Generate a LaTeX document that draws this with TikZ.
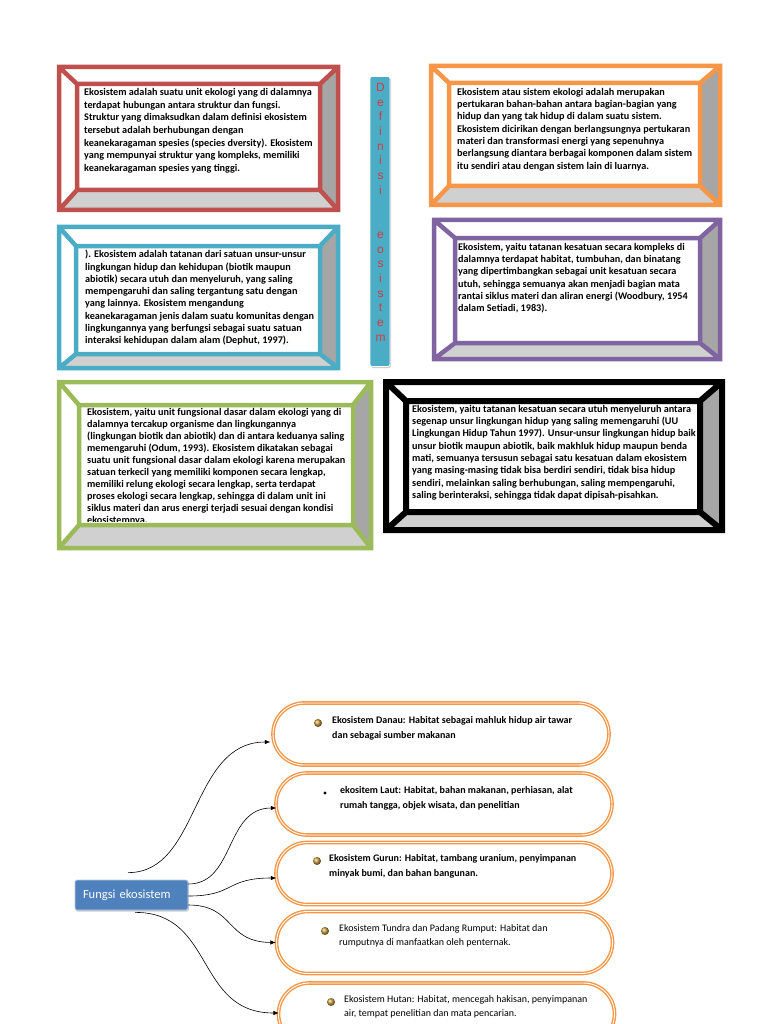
\documentclass[tikz,border=0pt]{standalone}
\usepackage{fontspec}
\setmainfont{Carlito}
\newfontfamily\arialf{Liberation Sans}
\usetikzlibrary{calc,shadows,arrows.meta}
\definecolor{cred}{HTML}{C0504D}
\definecolor{corange}{HTML}{F79646}
\definecolor{cblue}{HTML}{4BACC6}
\definecolor{cpurple}{HTML}{8064A2}
\definecolor{cgreen}{HTML}{9BBB59}
\definecolor{cgrayR}{HTML}{A6A6A6}
\definecolor{cgrayB}{HTML}{D0D0D0}
\definecolor{cfbox}{HTML}{4F81BD}
\definecolor{cletter}{HTML}{D8383E}
\definecolor{cbul}{HTML}{C89A3A}
\newcommand\bevelbox[9]{%
  \fill[white] (#2,#3) rectangle (#4,#5);
  \fill[cgrayR] (#4,#3) -- (#4,#5) -- (#8,#9) -- (#8,#7) -- cycle;
  \fill[cgrayB] (#2,#5) -- (#4,#5) -- (#8,#9) -- (#6,#9) -- cycle;
  \draw[#1, line join=miter] (#2,#3) rectangle (#4,#5) (#6,#7) rectangle (#8,#9)
     (#2,#3) -- (#6,#7) (#4,#3) -- (#8,#7) (#4,#5) -- (#8,#9) (#2,#5) -- (#6,#9);
}
\tikzset{
  boxtext/.style={anchor=north west, inner sep=0pt, align=left,
     font=\fontsize{10.2}{12.3}\selectfont\bfseries},
  pill/.style={draw=corange, double=white, double distance=0.9pt, line width=1.4pt,
     rounded corners=31pt, minimum width=336pt, minimum height=62pt, inner sep=0pt},
  ovaltext/.style={anchor=north west, inner sep=0pt, align=left,
     font=\fontsize{10}{14.8}\selectfont},
  conn/.style={black, line width=0.6pt, -{Latex[length=5.5pt,width=4.5pt]}},
  gbul/.style={ball color=cbul},
}
\begin{document}
\begin{tikzpicture}[x=1pt,y=-1pt]
\useasboundingbox (0,0) rectangle (768,1024);
\fill[white] (0,0) rectangle (768,1024);
\clip (0,0) rectangle (768,1024);

% bevelled boxes
\bevelbox{cred, line width=4.5pt}{59}{67}{338}{210}{77}{84}{320}{190}
\bevelbox{corange, line width=4.5pt}{431}{66}{720}{205}{449}{83}{700}{186}
\bevelbox{cblue, line width=4.5pt}{59}{227}{338}{368}{76}{246}{320}{354}
\bevelbox{cpurple, line width=4.5pt}{434}{220}{720}{359}{455}{238}{700}{343}
\bevelbox{cgreen, line width=4.5pt}{59}{382}{371}{548}{79}{405}{353}{525}
\bevelbox{black, line width=6pt}{386}{382}{722}{530}{406}{401}{700}{512}

\node[boxtext, font=\fontsize{10.2}{12.7}\selectfont\bfseries] (b1) at (84,88) {Ekosistem adalah suatu unit ekologi yang di dalamnya\\
terdapat hubungan antara struktur dan fungsi.\\
Struktur yang dimaksudkan dalam definisi ekosistem\\
tersebut adalah berhubungan dengan\\
keanekaragaman spesies (species dversity). Ekosistem\\
yang mempunyai struktur yang kompleks, memiliki\\
keanekaragaman spesies yang tinggi.};

\node[boxtext] (b2) at (457,88) {Ekosistem atau sistem ekologi adalah merupakan\\
pertukaran bahan-bahan antara bagian-bagian yang\\
hidup dan yang tak hidup di dalam suatu sistem.\\
Ekosistem dicirikan dengan berlangsungnya pertukaran\\
materi dan transformasi energi yang sepenuhnya\\
berlangsung diantara berbagai komponen dalam sistem\\
itu sendiri atau dengan sistem lain di luarnya.};

\node[boxtext] (b3) at (85,250) {). Ekosistem adalah tatanan dari satuan unsur-unsur\\
lingkungan hidup dan kehidupan (biotik maupun\\
abiotik) secara utuh dan menyeluruh, yang saling\\
mempengaruhi dan saling tergantung satu dengan\\
yang lainnya. Ekosistem mengandung\\
keanekaragaman jenis dalam suatu komunitas dengan\\
lingkungannya yang berfungsi sebagai suatu satuan\\
interaksi kehidupan dalam alam (Dephut, 1997).};

\node[boxtext] (b4) at (458,243) {Ekosistem, yaitu tatanan kesatuan secara kompleks di\\
dalamnya terdapat habitat, tumbuhan, dan binatang\\
yang dipertimbangkan sebagai unit kesatuan secara\\
utuh, sehingga semuanya akan menjadi bagian mata\\
rantai siklus materi dan aliran energi (Woodbury, 1954\\
dalam Setiadi, 1983).};

\begin{scope}
\clip (81,407) rectangle (351,521);
\node[boxtext, font=\fontsize{10.2}{12}\selectfont\bfseries] (b5) at (87,408) {Ekosistem, yaitu unit fungsional dasar dalam ekologi yang di\\
dalamnya tercakup organisme dan lingkungannya\\
(lingkungan biotik dan abiotik) dan di antara keduanya saling\\
memengaruhi (Odum, 1993). Ekosistem dikatakan sebagai\\
suatu unit fungsional dasar dalam ekologi karena merupakan\\
satuan terkecil yang memiliki komponen secara lengkap,\\
memiliki relung ekologi secara lengkap, serta terdapat\\
proses ekologi secara lengkap, sehingga di dalam unit ini\\
siklus materi dan arus energi terjadi sesuai dengan kondisi\\
ekosistemnya.};
\end{scope}

\node[boxtext] (b6) at (412,405) {Ekosistem, yaitu tatanan kesatuan secara utuh menyeluruh antara\\
segenap unsur lingkungan hidup yang saling memengaruhi (UU\\
Lingkungan Hidup Tahun 1997). Unsur-unsur lingkungan hidup baik\\
unsur biotik maupun abiotik, baik makhluk hidup maupun benda\\
mati, semuanya tersusun sebagai satu kesatuan dalam ekosistem\\
yang masing-masing tidak bisa berdiri sendiri, tidak bisa hidup\\
sendiri, melainkan saling berhubungan, saling mempengaruhi,\\
saling berinteraksi, sehingga tidak dapat dipisah-pisahkan.};

% vertical bar
\node[fill=cblue, draw=white, line width=0.8pt, rounded corners=2pt,
      minimum width=20pt, minimum height=290pt, inner sep=0pt,
      drop shadow={shadow xshift=1pt, shadow yshift=-1.5pt, opacity=0.4}] (bar) at (380,221.5) {};
\node[anchor=north, inner sep=0pt, align=center, text=cletter,
      font=\arialf\fontsize{12}{14.7}\selectfont] (barlbl) at (380.5,83)
  {D\\e\\f\\i\\n\\i\\s\\i\\[29.4pt]e\\o\\s\\i\\s\\t\\e\\m};

% bottom diagram
\node[fill=cfbox, draw=cfbox!40!white, line width=0.8pt, rounded corners=2pt,
      minimum height=30pt, text width=97pt, inner xsep=8pt, align=left,
      text=white, font=\fontsize{12.5}{14}\selectfont,
      drop shadow={shadow xshift=0.8pt, shadow yshift=-1.5pt, opacity=0.4}] (f) at (131.5,895) {Fungsi ekosistem};

\node[pill] (o1) at (441,734) {};
\node[pill] (o2) at (444,804) {};
\node[pill] (o3) at (444,873.5) {};
\node[pill] (o4) at (444.5,942.5) {};
\node[pill] (o5) at (446.5,1014) {};

\shade[gbul] (318,723) circle (4pt);
\fill[black] (325,793) circle (1.6pt);
\shade[gbul] (317,861) circle (4pt);
\shade[gbul] (325,931) circle (4pt);
\shade[gbul] (331,1002) circle (4pt);

\node[ovaltext, font=\fontsize{10}{14.8}\selectfont\bfseries] (t1) at (332,716) {Ekosistem Danau: Habitat sebagai mahluk hidup air tawar\\dan sebagai sumber makanan};
\node[ovaltext, font=\fontsize{10}{14.8}\selectfont\bfseries] (t2) at (340,786) {ekositem Laut: Habitat, bahan makanan, perhiasan, alat\\rumah tangga, objek wisata, dan penelitian};
\node[ovaltext, font=\fontsize{10}{14.8}\selectfont\bfseries] (t3) at (329,854) {Ekosistem Gurun: Habitat, tambang uranium, penyimpanan\\minyak bumi, dan bahan bangunan.};
\node[ovaltext] (t4) at (339,924) {Ekosistem Tundra dan Padang Rumput: Habitat dan\\rumputnya di manfaatkan oleh penternak.};
\node[ovaltext] (t5) at (344,995) {Ekosistem Hutan: Habitat, mencegah hakisan, penyimpanan\\air, tempat penelitian dan mata pencarian.};

\draw[conn] ($(f.north)+(-3.5,-7)$) .. controls (200,873) and (190,742) .. ($(o1.west)+(-2,8)$);
\draw[conn] ($(f.east)+(0,-11)$) .. controls (235,884) and (225,808) .. ($(o2.west)+(1,4)$);
\draw[conn] ($(f.east)+(0,1)$) .. controls (235,896) and (225,878) .. ($(o3.west)+(1,4.5)$);
\draw[conn] ($(f.east)+(0,10)$) .. controls (235,905) and (225,942) .. (o4.west);
\draw[conn] ($(f.south)+(3.5,2)$) .. controls (215,912) and (195,1013) .. ($(o5.west)+(1,-1)$);
\end{tikzpicture}
\end{document}
